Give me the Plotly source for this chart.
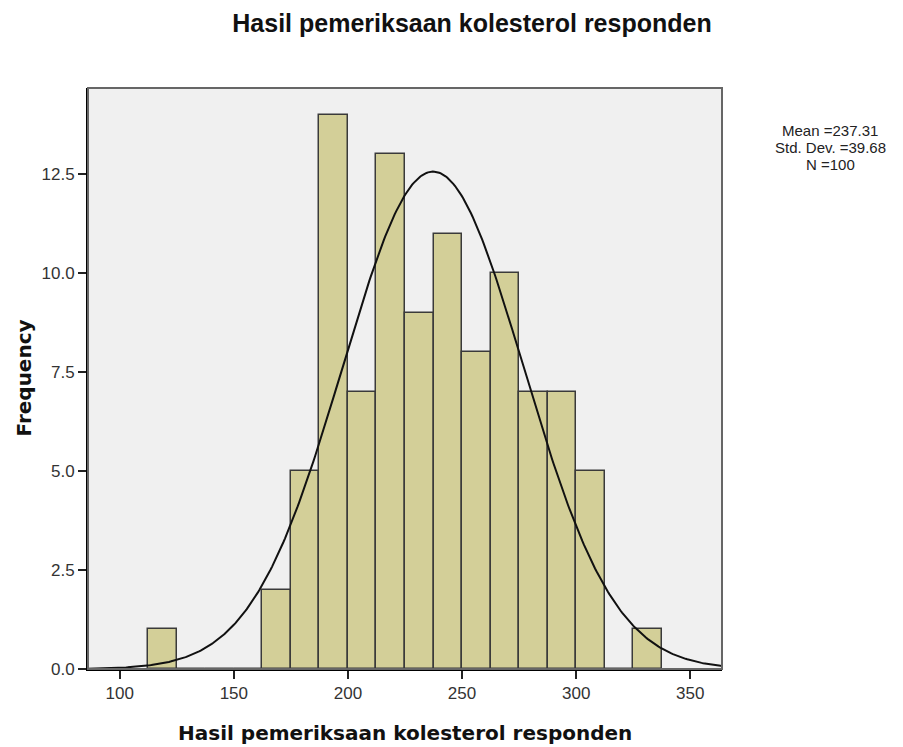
import numpy as np
import plotly.graph_objects as go

# Data
bin_centers = [118.75, 131.25, 143.75, 156.25, 168.75, 181.25, 193.75, 206.25, 218.75,
               231.25, 243.75, 256.25, 268.75, 281.25, 293.75, 306.25, 318.75, 331.25]
counts = [1, 0, 0, 0, 2, 5, 14, 7, 13, 9, 11, 8, 10, 7, 7, 5, 0, 1]
bin_width = 12.5
mean_val = 237.31
std_val = 39.68
n_val = 100
x_ticks = [100, 150, 200, 250, 300, 350]
y_ticks = [0.0, 2.5, 5.0, 7.5, 10.0, 12.5]
title_text = "Hasil pemeriksaan kolesterol responden"
y_title_text = "Frequency"
stats_lines = ["Mean =%.2f" % mean_val, "Std. Dev. =%.2f" % std_val, "N =%d" % n_val]

xs = np.linspace(86, 364, 400)
ys = n_val * bin_width / (std_val * np.sqrt(2 * np.pi)) * np.exp(-0.5 * ((xs - mean_val) / std_val) ** 2)

W, H = 895, 739
L, T, R, B = 80, 80, 181, 78
PW, PH = W - L - R, H - T - B

def px(xf):
    return (xf - L) / PW

def py(yf):
    return 1 - (yf - T) / PH

fig = go.Figure()
fig.add_trace(go.Bar(
    x=bin_centers, y=counts, width=[bin_width] * len(bin_centers),
    marker=dict(color="#D3CF98", line=dict(color="#3a3a3a", width=1.5)),
    showlegend=False, hoverinfo="x+y",
))
fig.add_trace(go.Scatter(
    x=xs, y=ys, mode="lines", line=dict(color="#111111", width=2),
    showlegend=False, hoverinfo="skip",
))

annotations = [
    dict(text="<b>%s</b>" % title_text, xref="paper", yref="paper", x=0.5, xanchor="center",
         y=py(725), yanchor="middle", showarrow=False,
         font=dict(family="DejaVu Sans, Verdana", size=20, color="#111111")),
    dict(text="<b>%s</b>" % y_title_text, xref="paper", yref="paper", x=px(15), xanchor="center",
         y=0.5, yanchor="middle", showarrow=False, textangle=-90,
         font=dict(family="DejaVu Sans, Verdana", size=20, color="#111111")),
]
for i, line in enumerate(stats_lines):
    annotations.append(dict(text=line, xref="paper", yref="paper", x=px(822), xanchor="center",
                            y=py(122 + 17 * i), yanchor="middle", showarrow=False,
                            font=dict(family="Liberation Sans, Arial", size=15, color="#222222")))

fig.update_layout(
    width=W, height=H,
    margin=dict(l=L, r=R, t=T, b=B, autoexpand=False),
    paper_bgcolor="white", plot_bgcolor="#F0F0F0",
    bargap=0,
    title=dict(text="<b>%s</b>" % title_text,
               x=464 / W, xanchor="center", y=1 - 15 / H, yanchor="middle",
               font=dict(family="Liberation Sans, Arial", size=25, color="#111111")),
    font=dict(family="Liberation Sans, Arial", size=16, color="#333333"),
    xaxis=dict(range=[86.1, 363.9], tickvals=x_ticks, ticktext=[str(v) for v in x_ticks],
               showgrid=False, zeroline=False, showline=True, linecolor="black", linewidth=2,
               ticks="outside", ticklen=8, tickwidth=1.5, tickcolor="#222", automargin=False,
               tickfont=dict(size=17, color="#333333")),
    yaxis=dict(range=[0, 14.68], tickvals=y_ticks, ticktext=["%.1f" % v for v in y_ticks],
               showgrid=False, zeroline=False, showline=True, linecolor="black", linewidth=2,
               ticks="outside", ticklen=8, tickwidth=1.5, tickcolor="#222", automargin=False,
               tickfont=dict(size=17, color="#333333")),
    shapes=[dict(type="rect", xref="paper", yref="paper", x0=0, x1=1, y0=0, y1=1,
                 line=dict(color="#666666", width=2), layer="above")],
    annotations=annotations,
)

fig.write_html("out.html")
